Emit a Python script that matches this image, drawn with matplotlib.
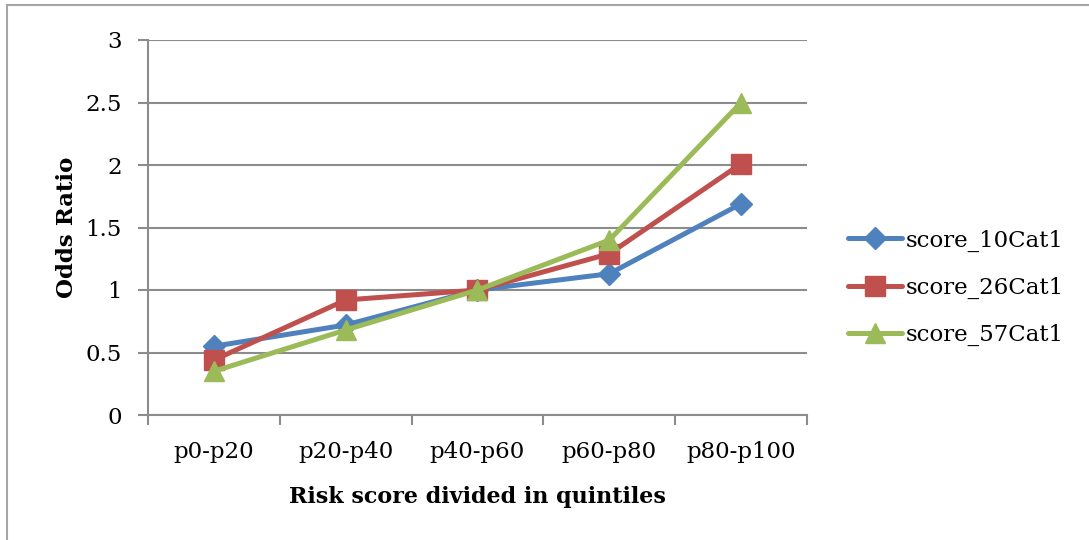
import matplotlib.pyplot as plt
from matplotlib.lines import Line2D

# Data
categories = ['p0-p20', 'p20-p40', 'p40-p60', 'p60-p80', 'p80-p100']
score_10 = [0.55, 0.72, 1.0, 1.13, 1.69]
score_26 = [0.44, 0.92, 1.0, 1.29, 2.01]
score_57 = [0.35, 0.68, 1.0, 1.40, 2.50]
yticks = [0, 0.5, 1, 1.5, 2, 2.5, 3]
ytick_labels = ['0', '0.5', '1', '1.5', '2', '2.5', '3']

plt.rcParams['font.family'] = ['DejaVu Serif']

W, H = 1089, 540
fig = plt.figure(figsize=(W / 100, H / 100), dpi=100)
# plot area in pixels: x 148..807, y 40..415
ax = fig.add_axes([148 / W, 1 - 415 / H, (807 - 148) / W, (415 - 40) / H])

grid_col = '#8C8C8C'
x = list(range(len(categories)))

ax.plot(x, score_10, color='#4F81BD', lw=3.6, marker='D', ms=11,
        solid_capstyle='round', label='score_10Cat1', zorder=3)
ax.plot(x, score_26, color='#C0504D', lw=3.6, marker='s', ms=14,
        solid_capstyle='round', label='score_26Cat1', zorder=4)
ax.plot(x, score_57, color='#9BBB59', lw=3.6, marker='^', ms=15,
        solid_capstyle='round', label='score_57Cat1', zorder=5)

ax.set_xlim(-0.5, len(categories) - 0.5)
ax.set_ylim(0, 3)
ax.set_yticks(yticks)
ax.set_yticklabels(ytick_labels)
ax.set_xticks(x)
ax.set_xticklabels(categories)
ax.set_xticks([i - 0.5 for i in range(len(categories) + 1)], minor=True)
ax.tick_params(axis='x', which='major', length=0, pad=19, labelsize=16.5)
ax.tick_params(axis='x', which='minor', length=7, width=1.5, color=grid_col)
ax.tick_params(axis='y', length=7, width=1.5, color=grid_col, pad=12, labelsize=16.5)

ax.yaxis.grid(True, color=grid_col, lw=1.5)
ax.set_axisbelow(True)
for side in ['top', 'right']:
    ax.spines[side].set_visible(False)
for side in ['left', 'bottom']:
    ax.spines[side].set_color(grid_col)
    ax.spines[side].set_linewidth(1.5)

ax.set_ylabel('Odds Ratio', fontsize=16.5, fontweight='bold', labelpad=5)
ax.set_xlabel('Risk score divided in quintiles', fontsize=16, fontweight='bold', labelpad=16)

leg = ax.legend(loc='center left', bbox_to_anchor=(1.031, 0.339), frameon=False,
                fontsize=16.5, handlelength=2.35, handletextpad=0.17, labelspacing=1.1)

# outer chart border (left and top edges visible)
fig.add_artist(Line2D([7 / W, 7 / W], [0, 1 - 5 / H], color='#A6A6A6', lw=1.5))
fig.add_artist(Line2D([7 / W, 1], [1 - 5 / H, 1 - 5 / H], color='#A6A6A6', lw=1.5))

fig.savefig('out.png', dpi=100)
